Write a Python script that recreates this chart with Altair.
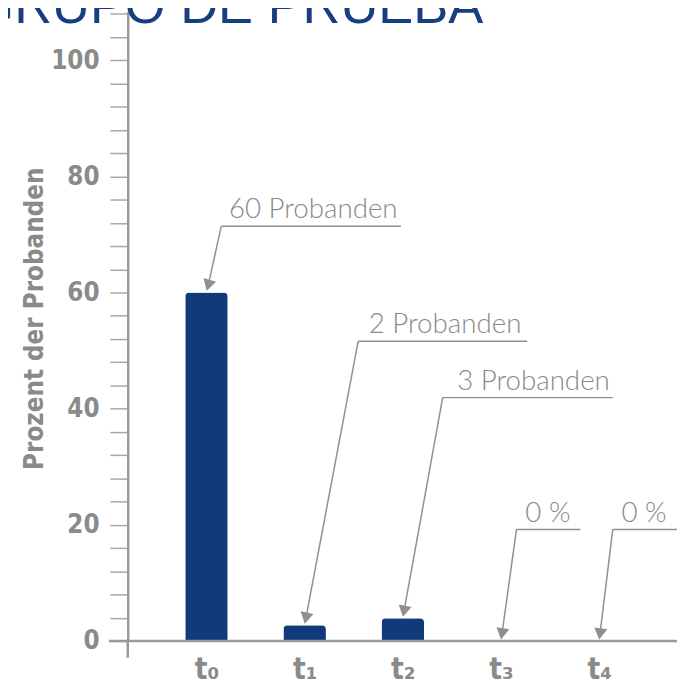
import math
import altair as alt
import pandas as pd

# ---------------- data ----------------
categories = ["t₀", "t₁", "t₂", "t₃", "t₄"]
values = [60, 2.7, 3.9, 0, 0]

ann_labels = ["60 Probanden", "2 Probanden", "3 Probanden", "0 %", "0 %"]
ann_kink_x = [0.15, 1.545, 2.406, 3.158, 4.139]   # where the leader bends (category units)
ann_kink_y = [71.4, 51.6, 41.9, 19.2, 19.2]       # height of the underline (percent)
ann_end_x = [1.98, 3.267, 4.139, 3.81, 4.80]      # right end of the underline
ann_text_x = [0.228, 1.653, 2.554, 3.248, 4.228]  # left edge of the label text

TITLE = "GRUPO DE PRUEBA"
Y_TITLE = "Prozent der Probanden"

# ---------------- layout ----------------
W, H = 555, 636
X_DOM = [-0.752, 4.743]
Y_DOM = [0, 108.4]
PX_X = W / (X_DOM[1] - X_DOM[0])
PX_Y = H / (Y_DOM[1] - Y_DOM[0])
TIP_GAP = 2.3      # arrow tip above bar (percent units)
HEAD = 6.5         # half arrow head length (px)

BLUE = "#103a7a"
GRAY = "#8a8a8a"
LINE_GRAY = "#8f8f8f"
BOLD_FONT = "DejaVu Sans Condensed, DejaVu Sans, sans-serif"
THIN_FONT = "Lato"

bars = pd.DataFrame({"idx": list(range(len(categories))), "cat": categories, "value": values})
title_df = pd.DataFrame({"t": [TITLE]})

rows = []
for i, v in enumerate(values):
    tip_x, tip_y = i, v + TIP_GAP
    dx = (tip_x - ann_kink_x[i]) * PX_X
    dy = (ann_kink_y[i] - tip_y) * PX_Y
    L = math.hypot(dx, dy)
    ux, uy = dx / L, dy / L
    rows.append({
        "label": ann_labels[i],
        "kx": ann_kink_x[i], "ky": ann_kink_y[i],
        "ex": ann_end_x[i], "tx": ann_text_x[i],
        "hx": tip_x - HEAD * ux / PX_X,
        "hy": tip_y - HEAD * uy / PX_Y,
        "angle": math.degrees(math.atan2(-dx, dy)),
    })
ann = pd.DataFrame(rows)

xs = alt.Scale(domain=X_DOM, nice=False, zero=False)
ys = alt.Scale(domain=Y_DOM, nice=False, zero=False)

label_js = "[" + ",".join('"%s"' % c for c in categories) + "]"

x_axis = alt.Axis(
    values=list(range(len(categories))),
    labelExpr=label_js + "[datum.value]",
    domain=False, ticks=False, grid=False, title=None,
    labelFont=BOLD_FONT, labelFontSize=30, labelFontWeight="bold",
    labelColor=GRAY, labelPadding=14, labelFlush=False, labelOverlap=False,
)
y_axis = alt.Axis(
    values=list(range(0, 109, 4)), tickCount=60,
    labelExpr="datum.value % 20 === 0 ? datum.label : ''",
    grid=False, tickSize=18, tickColor="#a8a8a8", tickWidth=1.5,
    domainColor="#9a9a9a", domainWidth=2.5,
    labelFont=BOLD_FONT, labelFontSize=26, labelFontWeight="bold",
    labelColor=GRAY, labelPadding=11, labelOverlap=False, labelFlush=False,
    title=Y_TITLE, titleFont=BOLD_FONT, titleFontSize=26, titleFontWeight="bold",
    titleColor=GRAY, titleAngle=270, titleX=-94, titleY=310,
    titleAlign="center", titleBaseline="middle",
)

bar_layer = alt.Chart(bars).mark_bar(
    size=43, color=BLUE, cornerRadiusTopLeft=4, cornerRadiusTopRight=4
).encode(
    x=alt.X("idx:Q", scale=xs, axis=x_axis),
    y=alt.Y("value:Q", scale=ys, axis=y_axis),
)

x_line = alt.Chart(title_df).mark_rule(color="#9a9a9a", strokeWidth=2.5).encode(
    x=alt.value(-19), x2=alt.value(W), y=alt.YDatum(0, scale=ys)
)
y_ext = alt.Chart(title_df).mark_rule(color="#9a9a9a", strokeWidth=2.5).encode(
    x=alt.value(0), y=alt.value(H), y2=alt.value(H + 17)
)

base = alt.Chart(ann)
underline = base.mark_rule(color=LINE_GRAY, strokeWidth=1.5).encode(
    x=alt.X("kx:Q", scale=xs), x2="ex:Q", y=alt.Y("ky:Q", scale=ys)
)
leader = base.mark_rule(color=LINE_GRAY, strokeWidth=1.5).encode(
    x=alt.X("kx:Q", scale=xs), y=alt.Y("ky:Q", scale=ys), x2="hx:Q", y2="hy:Q"
)
heads = base.mark_point(shape="triangle-down", filled=True, size=175, color=LINE_GRAY, opacity=1).encode(
    x=alt.X("hx:Q", scale=xs), y=alt.Y("hy:Q", scale=ys), angle=alt.Angle("angle:Q", scale=None)
)
texts = base.mark_text(
    align="left", baseline="alphabetic", dy=-8, font=THIN_FONT, fontSize=28,
    fontWeight=300, color=GRAY
).encode(x=alt.X("tx:Q", scale=xs), y=alt.Y("ky:Q", scale=ys), text="label:N")

title = alt.Chart(title_df).mark_text(
    align="left", baseline="alphabetic", font="Liberation Sans, Arial, sans-serif",
    fontSize=53, color="#173e80"
).encode(x=alt.value(-156), y=alt.value(12), text="t:N")

chart = alt.layer(
    bar_layer, x_line, y_ext, underline, leader, heads, texts, title
).properties(
    width=W, height=H,
    background="white",
    autosize=alt.AutoSizeParams(type="none"),
    padding={"left": 121, "top": 0, "right": 0, "bottom": 40},
).configure_view(stroke=None)

chart.save("out.html", embed_options={"renderer": "svg", "actions": False})
